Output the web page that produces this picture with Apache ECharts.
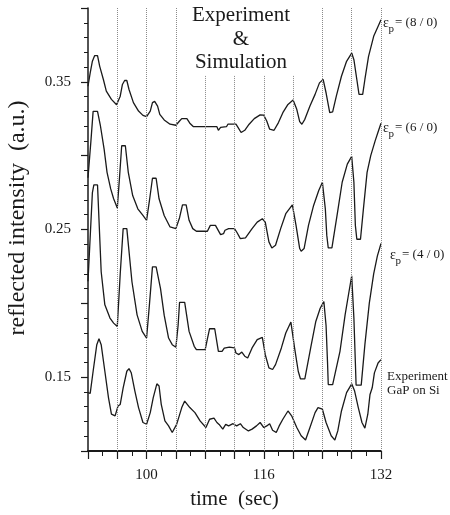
<!DOCTYPE html>
<html><head><meta charset="utf-8">
<script src="https://cdn.jsdelivr.net/npm/echarts@6/dist/echarts.min.js"></script>
<style>html,body{margin:0;padding:0;background:#fff}#c{width:450px;height:515px}</style>
</head><body><div id="c"></div>
<script>
// Simulation eps_p = (8/0)
const sim8 = [[92.0,0.347],[92.3,0.356],[92.6,0.364],[92.9,0.3677],[93.3,0.3677],[93.6,0.3605],[94.1,0.3516],[94.5,0.3437],[95.2,0.3381],[95.9,0.3345],[96.0,0.3343],[96.4,0.3403],[96.7,0.3482],[97.0,0.3509],[97.3,0.3509],[97.6,0.3448],[98.2,0.3359],[98.9,0.3302],[99.5,0.3273],[100.0,0.3264],[100.5,0.3302],[100.8,0.3359],[101.1,0.3368],[101.3,0.3365],[101.5,0.3336],[101.8,0.328],[102.4,0.3242],[103.2,0.3213],[104.0,0.3206],[104.5,0.3235],[104.8,0.3251],[105.5,0.3251],[105.9,0.322],[106.4,0.3196],[108.2,0.3196],[109.6,0.3196],[109.8,0.3172],[110.1,0.3192],[110.9,0.3196],[111.1,0.3213],[112.2,0.3213],[112.5,0.319],[112.9,0.3157],[113.4,0.3172],[114.0,0.3213],[114.7,0.3251],[115.5,0.3276],[116.0,0.3274],[116.4,0.3235],[116.8,0.3179],[117.4,0.3172],[118.0,0.3224],[118.6,0.3291],[119.3,0.3347],[120.0,0.3377],[120.5,0.3314],[120.9,0.3231],[121.2,0.3213],[121.6,0.3246],[122.3,0.3336],[123.0,0.3415],[123.6,0.3493],[124.1,0.3516],[124.5,0.3426],[125.0,0.3291],[125.4,0.3296],[125.9,0.3403],[126.6,0.3538],[127.3,0.3639],[128.0,0.3695],[128.3,0.365],[128.7,0.3516],[129.0,0.3415],[129.5,0.3415],[129.8,0.3516],[130.3,0.3673],[131.0,0.3808],[131.7,0.3886],[132.0,0.392]];
// Simulation eps_p = (6/0)
const sim6 = [[92.0,0.285],[92.4,0.31],[92.7,0.330],[93.3,0.330],[93.7,0.3201],[94.2,0.3044],[94.6,0.2887],[95.1,0.2775],[95.5,0.2708],[96.0,0.2645],[96.3,0.285],[96.6,0.3067],[97.1,0.3067],[97.5,0.2887],[98.1,0.273],[98.8,0.264],[99.5,0.2595],[100.0,0.2562],[100.4,0.27],[100.8,0.2847],[101.3,0.2847],[101.7,0.2708],[102.4,0.2595],[103.2,0.2517],[104.0,0.2506],[104.5,0.258],[104.9,0.2667],[105.4,0.2667],[105.8,0.2562],[106.3,0.2506],[106.8,0.2488],[108.3,0.2488],[108.7,0.2528],[109.4,0.2528],[110.1,0.2465],[110.5,0.2472],[110.7,0.2495],[111.2,0.2506],[112.0,0.2506],[112.3,0.2483],[112.8,0.2438],[113.5,0.2443],[114.4,0.2506],[115.1,0.255],[115.8,0.2573],[116.2,0.255],[116.7,0.2416],[117.1,0.2375],[117.6,0.2393],[118.3,0.2506],[119.0,0.2607],[119.9,0.2667],[120.4,0.2528],[120.9,0.2371],[121.1,0.2353],[121.5,0.2371],[122.1,0.2528],[122.8,0.2663],[123.5,0.2764],[124.0,0.282],[124.4,0.264],[124.6,0.246],[124.8,0.2375],[125.3,0.2375],[126.0,0.2595],[126.7,0.282],[127.4,0.2943],[128.0,0.2995],[128.3,0.282],[128.5,0.2528],[128.7,0.2434],[129.2,0.2434],[129.6,0.264],[130.1,0.2887],[130.6,0.300],[131.2,0.310],[131.6,0.316],[132.0,0.322]];
// Simulation eps_p = (4/0)
const sim4 = [[92.0,0.215],[92.3,0.245],[92.6,0.275],[92.8,0.2802],[93.3,0.2802],[93.8,0.2214],[94.3,0.199],[95.0,0.19],[95.5,0.1866],[96.0,0.1843],[96.4,0.22],[96.8,0.2506],[97.3,0.2506],[98.0,0.2146],[98.7,0.1922],[99.4,0.181],[100.0,0.1765],[100.4,0.20],[100.8,0.2247],[101.3,0.2247],[101.9,0.21],[102.4,0.192],[103.0,0.1765],[103.5,0.172],[104.0,0.1703],[104.3,0.185],[104.5,0.2007],[105.2,0.2007],[105.8,0.181],[106.5,0.1709],[106.8,0.1686],[108.0,0.1686],[108.3,0.176],[108.6,0.1828],[109.3,0.1828],[109.8,0.1675],[110.3,0.1675],[110.6,0.1697],[111.3,0.1703],[112.0,0.1698],[112.2,0.1664],[112.6,0.1653],[113.0,0.167],[113.4,0.1642],[113.8,0.163],[114.4,0.1698],[115.1,0.1754],[115.8,0.1769],[116.2,0.1652],[116.7,0.1563],[117.2,0.1552],[117.6,0.1585],[118.4,0.1698],[119.0,0.1799],[119.7,0.1873],[120.2,0.1698],[120.7,0.154],[121.0,0.1489],[121.6,0.1489],[122.4,0.1698],[123.1,0.1877],[123.7,0.1967],[124.2,0.2012],[124.5,0.185],[124.7,0.16],[124.8,0.145],[125.4,0.145],[126.4,0.1675],[127.1,0.1922],[127.6,0.207],[128.0,0.2186],[128.3,0.19],[128.5,0.16],[128.6,0.1446],[129.3,0.1446],[129.8,0.172],[130.4,0.2],[131.0,0.22],[131.5,0.232],[132.0,0.2405]];
// Experiment GaP on Si
const expGaP = [[92.0,0.1395],[92.3,0.139],[92.7,0.154],[93.2,0.172],[93.5,0.176],[93.8,0.172],[94.3,0.154],[94.8,0.136],[95.2,0.125],[95.7,0.1238],[96.1,0.1305],[96.4,0.1315],[96.8,0.1428],[97.3,0.154],[97.6,0.1558],[97.9,0.153],[98.4,0.1406],[98.9,0.1294],[99.5,0.1193],[100.0,0.1181],[100.5,0.126],[100.9,0.136],[101.4,0.1455],[101.7,0.144],[102.0,0.1316],[102.5,0.1204],[103.0,0.117],[103.5,0.1125],[104.1,0.118],[104.8,0.1294],[105.2,0.1338],[105.9,0.1294],[106.6,0.126],[107.3,0.1204],[108.1,0.1159],[108.6,0.1215],[109.2,0.1222],[109.6,0.1193],[109.9,0.118],[110.4,0.1148],[110.8,0.118],[111.2,0.117],[111.8,0.1185],[112.3,0.117],[112.8,0.1185],[113.2,0.1159],[113.9,0.1136],[114.4,0.1148],[115.0,0.117],[115.5,0.1193],[116.0,0.1159],[116.4,0.117],[116.8,0.1185],[117.2,0.1141],[117.7,0.1125],[118.1,0.117],[118.6,0.1215],[119.3,0.1271],[119.8,0.1238],[120.5,0.1159],[121.1,0.1103],[121.7,0.1074],[122.3,0.1159],[123.0,0.126],[123.4,0.1294],[124.0,0.1283],[124.5,0.1193],[125.2,0.1103],[125.7,0.1074],[126.1,0.1136],[126.6,0.1271],[127.3,0.1395],[128.0,0.1455],[128.4,0.1406],[128.9,0.1294],[129.4,0.1193],[129.8,0.1155],[130.2,0.1249],[130.5,0.1383],[130.8,0.1428],[131.1,0.1529],[131.6,0.1596],[132.0,0.1619]];

const gridTimes = [96,100,104,108,112,116,120,124,128,132];
const gridTops  = [0.40,0.40,0.40,0.354,0.354,0.354,0.354,0.40,0.40,0.40];
const xTickLabels = [100,116,132];
const yTickLabels = [0.15,0.25,0.35];
const curveLabels = ['(8 / 0)','(6 / 0)','(4 / 0)'];
const titleLines = ['Experiment','&','Simulation'];
const expLabelLines = ['Experiment','GaP on Si'];

const serif = '"Liberation Serif","Times New Roman",serif';
const ink = '#1a1a1a';

function lineSeries(name, data, extra) {
  return Object.assign({
    name, type: 'line', data, showSymbol: false, symbol: 'none',
    lineStyle: { color: ink, width: 1.3 }, z: 3, animation: false
  }, extra || {});
}

const graphics = [];
graphics.push({ type: 'text', x: 18, y: 218, rotation: Math.PI / 2,
  style: { text: 'reflected intensity  (a.u.)', font: '24px ' + serif, fill: ink, align: 'center', verticalAlign: 'middle' } });
const titleY = [15, 39, 62];
titleLines.forEach((t, i) => graphics.push({ type: 'text', x: 241, y: titleY[i],
  style: { text: t, font: '21px ' + serif, fill: ink, align: 'center', verticalAlign: 'middle' } }));
const epsPos = [[383, 23], [383, 128], [390, 255]];
curveLabels.forEach((t, i) => {
  const [x, y] = epsPos[i];
  graphics.push({ type: 'text', x: x, y: y, style: { text: 'ε', font: '14px ' + serif, fill: ink, align: 'left', verticalAlign: 'middle' } });
  graphics.push({ type: 'text', x: x + 5.5, y: y + 6, style: { text: 'p', font: '11px ' + serif, fill: ink, align: 'left', verticalAlign: 'middle' } });
  graphics.push({ type: 'text', x: x + 12, y: y, style: { text: '= ' + t, font: '13px ' + serif, fill: ink, align: 'left', verticalAlign: 'middle' } });
});
const expY = [377, 391];
expLabelLines.forEach((t, i) => graphics.push({ type: 'text', x: 387, y: expY[i],
  style: { text: t, font: '13px ' + serif, fill: ink, align: 'left', verticalAlign: 'middle' } }));

const chart = echarts.init(document.getElementById('c'));
chart.setOption({
  animation: false,
  backgroundColor: '#fff',
  grid: { left: 88, right: 69, top: 8, bottom: 62, containLabel: false },
  xAxis: {
    type: 'value', min: 92, max: 132, interval: 4,
    axisLine: { show: true, lineStyle: { color: ink, width: 2 } },
    axisTick: { show: true, length: 8, lineStyle: { color: ink, width: 1.2 } },
    minorTick: { show: true, splitNumber: 2, length: 5, lineStyle: { color: ink, width: 1 } },
    splitLine: { show: false },
    axisLabel: { formatter: v => xTickLabels.includes(Math.round(v)) ? String(Math.round(v)) : '',
      fontFamily: serif, fontSize: 15, color: ink, margin: 17 },
    name: 'time  (sec)', nameLocation: 'middle', nameGap: 38,
    nameTextStyle: { fontFamily: serif, fontSize: 21, color: ink }
  },
  yAxis: {
    type: 'value', min: 0.1, max: 0.4, interval: 0.05,
    axisLine: { show: true, lineStyle: { color: ink, width: 1.5 } },
    axisTick: { show: true, length: 7, lineStyle: { color: ink, width: 1.2 } },
    minorTick: { show: true, splitNumber: 5, length: 4, lineStyle: { color: ink, width: 1 } },
    splitLine: { show: false },
    axisLabel: { formatter: v => yTickLabels.some(l => Math.abs(l - v) < 1e-6) ? v.toFixed(2) : '',
      fontFamily: serif, fontSize: 15, color: ink, margin: 17 }
  },
  graphic: graphics,
  series: [
    lineSeries('εp = (8/0)', sim8, {
      markLine: {
        silent: true, symbol: ['none', 'none'], animation: false,
        label: { show: false },
        lineStyle: { color: '#8a8a8a', width: 1, type: 'dotted' },
        data: gridTimes.map((t, i) => [{ coord: [t, gridTops[i]] }, { coord: [t, 0.1] }])
      }
    }),
    lineSeries('εp = (6/0)', sim6),
    lineSeries('εp = (4/0)', sim4),
    lineSeries('Experiment GaP on Si', expGaP)
  ]
});
</script>
</body></html>
